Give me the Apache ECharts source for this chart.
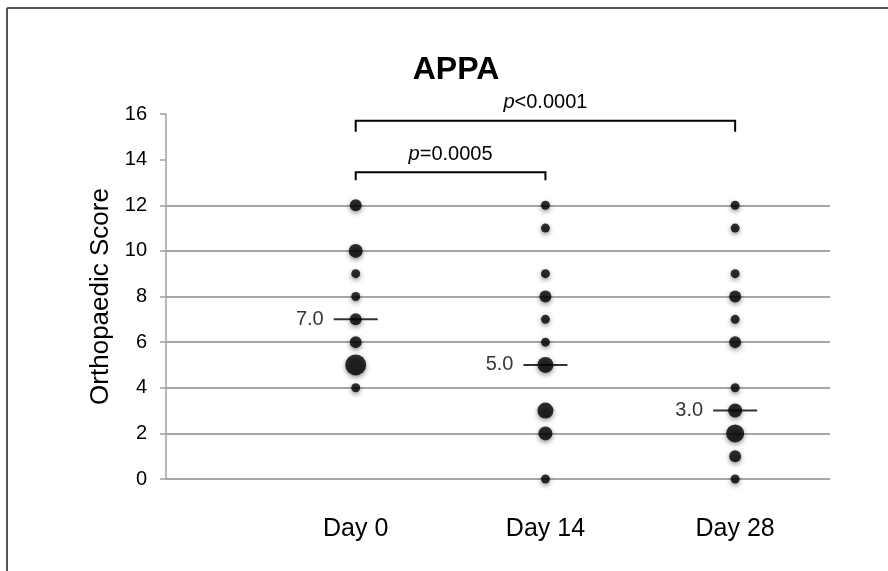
<!DOCTYPE html>
<html>
<head>
<meta charset="utf-8">
<style>
  html, body { margin: 0; padding: 0; background: #fff; }
  #chart { width: 888px; height: 571px; }
</style>
<script src="https://cdn.jsdelivr.net/npm/echarts@6/dist/echarts.min.js"></script>
</head>
<body>
<div id="chart"></div>
<script>
// APPA - orthopaedic score per time point (dot size = number of animals at that score)

const days = ['Day 0', 'Day 14', 'Day 28'];

const day0Scores = [12, 10, 9, 8, 7, 6, 5, 4];
const day0Counts = [2, 3, 1, 1, 2, 2, 6, 1];

const day14Scores = [12, 11, 9, 8, 7, 6, 5, 3, 2, 0];
const day14Counts = [1, 1, 1, 2, 1, 1, 4, 4, 3, 1];

const day28Scores = [12, 11, 9, 8, 7, 6, 4, 3, 2, 1, 0];
const day28Counts = [1, 1, 1, 2, 1, 2, 1, 3, 5, 2, 1];

const medians = [7.0, 5.0, 3.0];

// significance brackets (columns are 1-based day positions)
const bracketFrom = [1, 1];
const bracketTo = [2, 3];
const bracketLevel = [13.45, 15.7];
const bracketDrop = [0.35, 0.48];
const bracketText = ['=0.0005', '<0.0001'];

const yTicks = [0, 2, 4, 6, 8, 10, 12, 14, 16];

const FONT = '"Liberation Sans", Arial, Helvetica, sans-serif';
const sizeByCount = [0, 9, 12, 14, 16, 18, 21];

const allScores = [day0Scores, day14Scores, day28Scores];
const allCounts = [day0Counts, day14Counts, day28Counts];

const dots = [];
allScores.forEach(function (scores, d) {
  scores.forEach(function (s, i) {
    dots.push([d + 1, s, allCounts[d][i]]);
  });
});

const myChart = echarts.init(document.getElementById('chart'));

const option = {
  animation: false,
  title: {
    text: 'APPA',
    left: 456,
    top: 54,
    padding: 0,
    textAlign: 'center',
    textStyle: { fontFamily: FONT, fontSize: 32, fontWeight: 'bold', color: '#000' }
  },
  graphic: [
    { type: 'line', shape: { x1: 7, y1: 8, x2: 888, y2: 8 }, style: { stroke: '#555', lineWidth: 2 } },
    { type: 'line', shape: { x1: 7, y1: 8, x2: 7, y2: 571 }, style: { stroke: '#555', lineWidth: 2 } }
  ],
  grid: {
    left: 166,
    right: 58,
    top: 114,
    bottom: 92
  },
  xAxis: {
    type: 'value',
    min: 0,
    max: 3.5,
    interval: 1,
    axisLine: { show: false },
    axisTick: { show: false },
    splitLine: { show: false },
    axisLabel: {
      margin: 38,
      fontFamily: FONT,
      fontSize: 25,
      color: '#000',
      formatter: function (v) {
        return days[v - 1] || '';
      }
    }
  },
  yAxis: {
    type: 'value',
    min: yTicks[0],
    max: yTicks[yTicks.length - 1],
    interval: 2,
    name: 'Orthopaedic Score',
    nameLocation: 'middle',
    nameGap: 50,
    nameTextStyle: { fontFamily: FONT, fontSize: 26, color: '#000' },
    axisLine: { show: true, lineStyle: { color: '#a0a0a0', width: 1.5 } },
    axisTick: { show: true, length: 6, lineStyle: { color: '#a0a0a0', width: 1.5 } },
    axisLabel: { margin: 19, fontFamily: FONT, fontSize: 20, color: '#000' },
    splitLine: {
      show: true,
      lineStyle: {
        width: 2,
        color: yTicks.map(function (t) { return t <= 12 ? '#a6a6a6' : 'rgba(0,0,0,0)'; })
      }
    }
  },
  series: [
    {
      name: 'median',
      type: 'scatter',
      z: 2,
      symbol: 'rect',
      symbolSize: [44, 2],
      itemStyle: { color: '#000' },
      label: {
        show: true,
        position: 'left',
        distance: 10,
        fontFamily: FONT,
        fontSize: 20,
        color: '#000',
        formatter: function (p) { return p.value[1].toFixed(1); }
      },
      data: medians.map(function (m, i) { return [i + 1, m]; })
    },
    {
      name: 'score',
      type: 'scatter',
      z: 3,
      symbolSize: function (val) { return sizeByCount[val[2]]; },
      itemStyle: {
        color: '#000',
        shadowBlur: 5,
        shadowOffsetY: 2,
        shadowColor: 'rgba(0,0,0,0.55)'
      },
      data: dots
    },
    {
      name: 'brackets',
      type: 'custom',
      z: 4,
      silent: true,
      renderItem: function (params, api) {
        const i = params.dataIndex;
        const lv = bracketLevel[i];
        const a = api.coord([bracketFrom[i], lv - bracketDrop[i]]);
        const b = api.coord([bracketFrom[i], lv]);
        const c = api.coord([bracketTo[i], lv]);
        const d = api.coord([bracketTo[i], lv - bracketDrop[i]]);
        return {
          type: 'group',
          children: [
            {
              type: 'polyline',
              shape: { points: [a, b, c, d] },
              style: { stroke: '#000', lineWidth: 2, fill: null }
            },
            {
              type: 'text',
              x: (b[0] + c[0]) / 2,
              y: b[1] - 18,
              style: {
                text: '{i|p}' + bracketText[i],
                align: 'center',
                verticalAlign: 'middle',
                fontFamily: FONT,
                fontSize: 20,
                fill: '#000',
                rich: {
                  i: { fontStyle: 'italic', fontFamily: FONT, fontSize: 20, fill: '#000' }
                }
              }
            }
          ]
        };
      },
      data: bracketLevel.map(function (lv, i) { return [bracketFrom[i], lv]; })
    }
  ]
};

myChart.setOption(option);
</script>
</body>
</html>
